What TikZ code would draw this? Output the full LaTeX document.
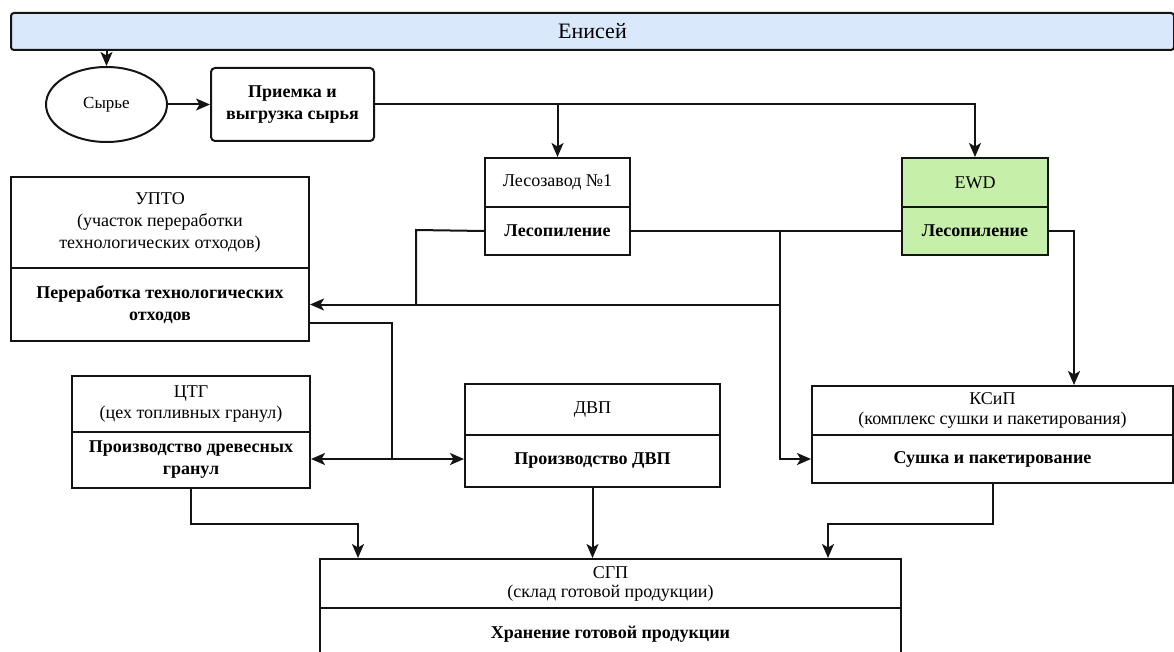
\documentclass[tikz,border=0pt]{standalone}
\usepackage{fontspec}
\setmainfont{Liberation Serif}
\usetikzlibrary{arrows.meta,shapes.geometric}

\definecolor{barblue}{HTML}{DAE8FC}
\definecolor{mossgreen}{HTML}{C6EFAA}
\definecolor{edge}{HTML}{141414}

\tikzset{
  conn/.style={line width=2pt, draw=edge},
  arr/.style={conn, -{Stealth[length=14pt,width=12pt,inset=3.5pt]}},
  cell/.style={draw=edge, line width=2pt, rectangle, inner sep=0pt,
    align=center, anchor=north west, font=\fontsize{18}{21}\selectfont},
  headcell/.style={cell},
  taskcell/.style={cell, font=\fontsize{18}{22}\selectfont\bfseries},
}

\begin{document}
\begin{tikzpicture}[x=1pt,y=-1pt]
  \useasboundingbox (0,0) rectangle (1174,652);
  \clip (0,0) rectangle (1174,652);

  % river bar and intake
  \node[cell, fill=barblue, rounded corners=3pt, minimum width=1163pt, minimum height=37pt,
        font=\fontsize{22}{26}\selectfont] (bar) at (10,12) {Енисей};
  \node[draw=edge, line width=2pt, ellipse, inner sep=0pt, minimum width=121pt,
        minimum height=75pt, font=\fontsize{17}{20}\selectfont] (raw) at (106.5,104.5) {Сырье};
  \node[taskcell, rounded corners=4pt, minimum width=163pt, minimum height=73pt] (recv)
        at (210,67) {Приемка и\\выгрузка сырья};

  % sawmills
  \node[headcell, minimum width=145pt, minimum height=49pt] (lzT) at (484,157) {Лесозавод №1};
  \node[taskcell, minimum width=145pt, minimum height=48pt] (lzB) at (484,206) {Лесопиление};
  \node[headcell, fill=mossgreen, minimum width=146pt, minimum height=49pt] (ewdT) at (901,157) {EWD};
  \node[taskcell, fill=mossgreen, minimum width=146pt, minimum height=48pt] (ewdB) at (901,206) {Лесопиление};

  % waste processing
  \node[headcell, minimum width=298pt, minimum height=91pt, font=\fontsize{18}{22}\selectfont] (upT) at (10,176)
        {УПТО\\(участок переработки\\технологических отходов)};
  \node[taskcell, minimum width=298pt, minimum height=73pt] (upB) at (10,267)
        {Переработка технологических\\отходов};

  % pellets
  \node[headcell, minimum width=238pt, minimum height=56pt] (ctgT) at (71,375) {ЦТГ\\(цех топливных гранул)};
  \node[taskcell, minimum width=238pt, minimum height=56pt] (ctgB) at (71,431) {Производство древесных\\гранул};

  % fibreboard
  \node[headcell, minimum width=255pt, minimum height=51pt] (dvpT) at (464,383) {ДВП};
  \node[taskcell, minimum width=255pt, minimum height=52pt] (dvpB) at (464,434) {Производство ДВП};

  % drying and packaging
  \node[headcell, minimum width=361pt, minimum height=49pt, font=\fontsize{18}{20}\selectfont] (kspT) at (811,385)
        {КСиП\\(комплекс сушки и пакетирования)};
  \node[taskcell, minimum width=361pt, minimum height=48pt] (kspB) at (811,434) {Сушка и пакетирование};

  % finished goods store
  \node[headcell, minimum width=581pt, minimum height=49pt, font=\fontsize{18}{19}\selectfont] (sgpT) at (319,558)
        {СГП\\(склад готовой продукции)};
  \node[taskcell, minimum width=581pt, minimum height=53pt] (sgpB) at (319,607) {Хранение готовой продукции};

  % junctions
  \coordinate (jL) at (416,230);
  \coordinate (jR) at (780,230);
  \coordinate (jM) at (392,459);

  % raw material flow
  \draw[arr] (raw.north |- bar.south) -- (raw.north);
  \draw[arr] (raw.east) -- (recv.west);
  \draw[arr] (recv.east) -| (ewdT.north);
  \draw[arr] (lzT.north |- recv.east) -- (lzT.north);

  % sawmill outputs
  \draw[conn] (lzB.west) -- (jL) -- (jL |- upB.east);
  \draw[conn] (lzB.east) -- (ewdB.west);
  \draw[arr] (jR) |- (upB.east);
  \draw[arr] (jR) |- (kspB.west |- jM);
  \draw[arr] (ewdB.east) -| ([xshift=81.5pt]kspT.north);

  % waste to pellets and fibreboard
  \draw[conn] ([yshift=-18.5pt]upB.east) -| (jM);
  \draw[arr] (jM) -- (ctgB.east |- jM);
  \draw[arr] (jM) -- (dvpB.west |- jM);

  % products to the store
  \draw[arr] (ctgB.south) -- ++(0,35) -| ([xshift=-252.5pt]sgpT.north);
  \draw[arr] (dvpB.south) -- (dvpB.south |- sgpT.north);
  \draw[arr] (kspB.south) -- ++(0,40) -| ([xshift=217.5pt]sgpT.north);
\end{tikzpicture}
\end{document}
